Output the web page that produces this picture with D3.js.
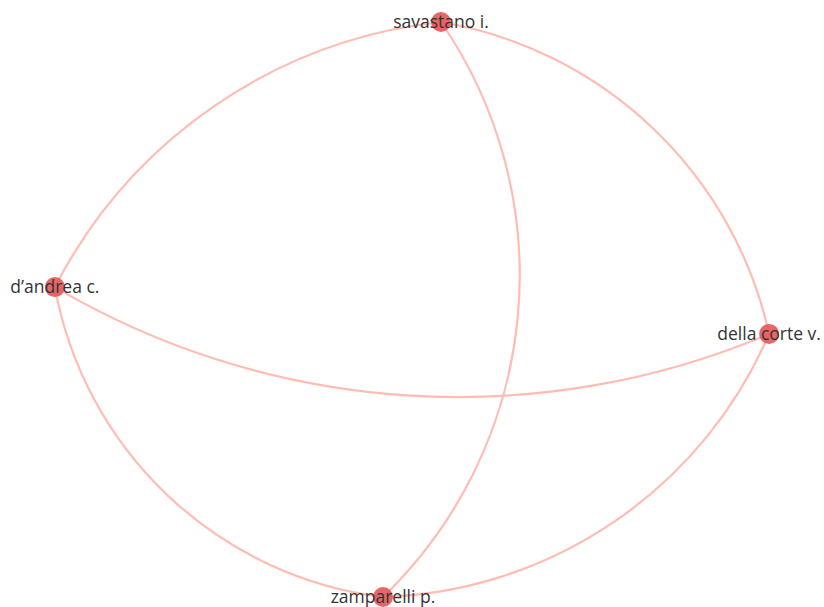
<!DOCTYPE html>
<html>
<head>
<meta charset="utf-8">
<script src="https://cdn.jsdelivr.net/npm/d3@7"></script>
<style>
  html, body { margin: 0; padding: 0; background: #ffffff; }
  svg { display: block; }
</style>
</head>
<body>
<svg id="chart" width="824" height="607"></svg>
<script>
// ---- data ----
const nodeNames = ["savastano i.", "d\u2019andrea c.", "della corte v.", "zamparelli p."];
const nodeX = [0.078, -0.960, 0.960, -0.078];   // map coordinates
const nodeY = [1.000, 0.078, -0.085, -1.000];
const linkSource = [0, 0, 0, 1, 1, 2];
const linkTarget = [1, 2, 3, 2, 3, 3];
const linkBend = [-59, 69, 106, -85, -74, 68];   // arc sagitta (px), signed side

// ---- layout ----
const W = 824, H = 607;
const svg = d3.select("#chart");
const x = d3.scaleLinear().domain([-1, 1]).range([40, 784]);
const y = d3.scaleLinear().domain([-1, 1]).range([597, 22]);

const nodes = nodeNames.map((n, i) => ({ name: n, px: x(nodeX[i]), py: y(nodeY[i]) }));
const links = linkSource.map((s, i) => ({ s: nodes[s], t: nodes[linkTarget[i]], bend: linkBend[i] }));

function arcPath(d) {
  const x1 = d.s.px, y1 = d.s.py, x2 = d.t.px, y2 = d.t.py;
  const L = Math.hypot(x2 - x1, y2 - y1);
  const s = Math.abs(d.bend), h = L / 2;
  const R = (h * h + s * s) / (2 * s);
  const sweep = d.bend > 0 ? 1 : 0;
  return `M${x1},${y1}A${R},${R} 0 0 ${sweep} ${x2},${y2}`;
}

svg.append("g").selectAll("path").data(links).join("path")
  .attr("d", arcPath)
  .attr("fill", "none")
  .attr("stroke", "#ffbcb2")
  .attr("stroke-width", 2.2)
  .attr("stroke-linecap", "round");

svg.append("g").selectAll("circle").data(nodes).join("circle")
  .attr("cx", d => d.px).attr("cy", d => d.py)
  .attr("r", 10)
  .attr("fill", "#e35a5a")
  .attr("fill-opacity", 0.92);

svg.append("g").selectAll("text").data(nodes).join("text")
  .attr("x", d => d.px).attr("y", d => d.py + 6)
  .attr("text-anchor", "middle")
  .attr("font-family", "'Open Sans', sans-serif")
  .attr("font-size", 17.5)
  .attr("fill", "#333333")
  .text(d => d.name);
</script>
</body>
</html>
